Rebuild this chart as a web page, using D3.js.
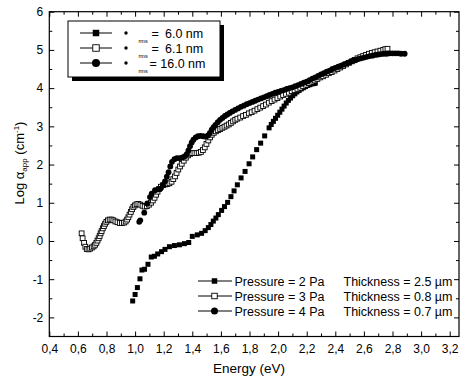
<!DOCTYPE html>
<html><head><meta charset="utf-8">
<script src="https://cdn.jsdelivr.net/npm/d3@7"></script>
<style>
body{margin:0;background:#fff}
svg{display:block}
text{font-family:"Liberation Sans",Arial,Helvetica,sans-serif;fill:#000}
</style>
</head><body>
<svg id="chart" width="460" height="379"></svg>
<script>
// ---- data ----
const xTickValues=[0.4,0.6,0.8,1.0,1.2,1.4,1.6,1.8,2.0,2.2,2.4,2.6,2.8,3.0,3.2];
const xMinorValues=[0.5,0.7,0.9,1.1,1.3,1.5,1.7,1.9,2.1,2.3,2.5,2.7,2.9,3.1];
const yTickValues=[-2,-1,0,1,2,3,4,5,6];
const yMinorValues=[-1.5,-0.5,0.5,1.5,2.5,3.5,4.5,5.5];

// Pressure = 2 Pa (filled squares)
const series2Pa=[[0.983,-1.57],[1.000,-1.40],[1.016,-1.22],[1.034,-0.99],[1.048,-0.76],[1.066,-0.74],[1.090,-0.61],[1.113,-0.42],[1.135,-0.40],[1.158,-0.34],[1.185,-0.28],[1.209,-0.22],[1.240,-0.15],[1.275,-0.12],[1.310,-0.10],[1.345,-0.07],[1.375,-0.04],[1.400,0.12],[1.435,0.16],[1.465,0.20],[1.490,0.27],[1.512,0.35],[1.530,0.43],[1.547,0.52],[1.565,0.60],[1.582,0.69],[1.605,0.80],[1.625,0.90],[1.647,1.01],[1.670,1.16],[1.692,1.31],[1.715,1.47],[1.741,1.65],[1.769,1.82],[1.797,2.02],[1.822,2.20],[1.850,2.39],[1.878,2.56],[1.906,2.75],[1.937,2.96],[1.952,3.05],[1.967,3.13],[1.982,3.21],[1.997,3.29],[2.012,3.37],[2.027,3.45],[2.042,3.53],[2.057,3.61],[2.072,3.68],[2.087,3.74],[2.102,3.80],[2.117,3.85],[2.132,3.90],[2.147,3.94],[2.162,3.98],[2.177,4.01],[2.192,4.04],[2.207,4.07],[2.222,4.09],[2.237,4.11],[2.252,4.12],[2.260,4.13]];

// Pressure = 3 Pa (open squares)
const series3Pa=[[0.626,0.20],[0.633,0.07],[0.643,-0.05],[0.652,-0.15],[0.662,-0.21],[0.674,-0.22],[0.686,-0.20],[0.698,-0.17],[0.710,-0.14],[0.720,-0.10],[0.729,-0.05],[0.737,0.01],[0.745,0.07],[0.752,0.13],[0.759,0.20],[0.766,0.26],[0.774,0.33],[0.782,0.39],[0.790,0.45],[0.799,0.50],[0.810,0.54],[0.822,0.56],[0.835,0.56],[0.848,0.54],[0.862,0.51],[0.877,0.49],[0.893,0.47],[0.908,0.47],[0.922,0.48],[0.934,0.51],[0.944,0.56],[0.953,0.62],[0.961,0.69],[0.970,0.76],[0.979,0.83],[0.988,0.89],[0.998,0.93],[1.010,0.96],[1.023,0.97],[1.037,0.95],[1.052,0.92],[1.067,0.90],[1.082,0.91],[1.097,0.95],[1.111,1.00],[1.124,1.06],[1.136,1.13],[1.147,1.21],[1.157,1.29],[1.168,1.36],[1.180,1.42],[1.195,1.46],[1.210,1.48],[1.225,1.49],[1.240,1.51],[1.255,1.55],[1.267,1.62],[1.279,1.69],[1.290,1.78],[1.302,1.87],[1.314,1.95],[1.326,2.02],[1.340,2.10],[1.355,2.18],[1.370,2.24],[1.385,2.28],[1.400,2.30],[1.415,2.30],[1.430,2.30],[1.445,2.31],[1.460,2.33],[1.474,2.38],[1.487,2.45],[1.499,2.54],[1.512,2.63],[1.524,2.71],[1.536,2.78],[1.550,2.83],[1.565,2.87],[1.580,2.90],[1.595,2.93],[1.610,2.96],[1.625,2.99],[1.640,3.02],[1.655,3.05],[1.670,3.09],[1.685,3.13],[1.700,3.17],[1.715,3.20],[1.735,3.23],[1.755,3.27],[1.775,3.30],[1.795,3.34],[1.815,3.37],[1.835,3.41],[1.855,3.45],[1.875,3.49],[1.895,3.53],[1.915,3.57],[1.935,3.62],[1.955,3.66],[1.975,3.70],[1.995,3.74],[2.015,3.78],[2.035,3.82],[2.055,3.85],[2.075,3.88],[2.095,3.92],[2.115,3.95],[2.135,3.98],[2.155,4.01],[2.175,4.05],[2.195,4.09],[2.215,4.13],[2.235,4.17],[2.255,4.20],[2.275,4.24],[2.295,4.28],[2.315,4.31],[2.335,4.35],[2.355,4.39],[2.375,4.42],[2.395,4.46],[2.415,4.50],[2.435,4.54],[2.455,4.58],[2.475,4.62],[2.495,4.66],[2.515,4.70],[2.535,4.74],[2.555,4.78],[2.575,4.81],[2.595,4.84],[2.615,4.87],[2.635,4.90],[2.655,4.92],[2.675,4.94],[2.695,4.96],[2.715,4.98],[2.735,5.00],[2.750,5.02],[2.765,5.03]];

// Pressure = 4 Pa (filled circles)
const series4Pa=[[1.029,0.50],[1.036,0.54],[1.064,0.74],[1.085,0.98],[1.104,1.15],[1.116,1.24],[1.139,1.33],[1.160,1.35],[1.178,1.37],[1.195,1.46],[1.209,1.56],[1.222,1.68],[1.234,1.80],[1.246,1.95],[1.258,2.07],[1.275,2.14],[1.292,2.17],[1.310,2.17],[1.328,2.18],[1.345,2.21],[1.361,2.27],[1.373,2.37],[1.384,2.48],[1.396,2.58],[1.408,2.65],[1.424,2.71],[1.440,2.74],[1.458,2.75],[1.476,2.74],[1.494,2.73],[1.510,2.76],[1.523,2.83],[1.536,2.91],[1.549,2.98],[1.562,3.04],[1.578,3.11],[1.594,3.17],[1.611,3.22],[1.628,3.27],[1.645,3.31],[1.662,3.35],[1.680,3.39],[1.700,3.43],[1.720,3.47],[1.740,3.51],[1.760,3.54],[1.780,3.58],[1.800,3.61],[1.820,3.64],[1.840,3.67],[1.860,3.70],[1.880,3.73],[1.900,3.76],[1.920,3.79],[1.940,3.82],[1.960,3.85],[1.980,3.88],[2.000,3.90],[2.020,3.93],[2.040,3.95],[2.060,3.98],[2.080,4.00],[2.100,4.02],[2.120,4.05],[2.140,4.08],[2.160,4.11],[2.180,4.14],[2.200,4.17],[2.220,4.21],[2.240,4.25],[2.260,4.28],[2.280,4.32],[2.300,4.36],[2.320,4.39],[2.340,4.43],[2.360,4.46],[2.380,4.50],[2.400,4.53],[2.420,4.56],[2.440,4.59],[2.460,4.62],[2.480,4.65],[2.500,4.68],[2.520,4.71],[2.540,4.73],[2.560,4.76],[2.580,4.78],[2.600,4.80],[2.620,4.82],[2.640,4.84],[2.660,4.85],[2.680,4.87],[2.700,4.88],[2.720,4.89],[2.740,4.90],[2.760,4.90],[2.780,4.91],[2.800,4.91],[2.820,4.91],[2.840,4.91],[2.860,4.90],[2.885,4.90]];

const roughnessLabels=["6.0 nm","6.1 nm","16.0 nm"];
const pressureLabels=["Pressure = 2 Pa","Pressure = 3 Pa","Pressure = 4 Pa"];
const thicknessLabels=["Thickness = 2.5 \u00b5m","Thickness = 0.8 \u00b5m","Thickness = 0.7 \u00b5m"];
const markerKinds=["square","open","circle"];

// ---- layout ----
const svg=d3.select("#chart");
const L=49.3,R=459,T=11.7,B=336.5;
const x=d3.scaleLinear().domain([0.4,3.265]).range([L,R]);
const y=d3.scaleLinear().domain([-2.5,6]).range([B,T]);
const fmt=d=>d3.format(".1f")(d).replace(".",",");

function drawMarker(g,kind,cx,cy,s){
  if(kind==="circle"){
    g.append("circle").attr("cx",cx).attr("cy",cy).attr("r",s/2).attr("fill","#000");
  }else{
    g.append("rect").attr("x",cx-s/2).attr("y",cy-s/2).attr("width",s).attr("height",s)
     .attr("fill",kind==="open"?"#fff":"#000").attr("stroke","#000").attr("stroke-width",kind==="open"?0.9:0);
  }
}

// axes
const axisStyle=g=>{g.select(".domain").remove();g.selectAll("line").attr("stroke","#000").attr("stroke-width",1);g.selectAll("text").attr("font-size",12).attr("font-family","Liberation Sans, Arial, sans-serif");};
svg.append("g").attr("transform",`translate(0,${B})`)
  .call(d3.axisBottom(x).tickValues(xTickValues).tickFormat(fmt).tickSize(-5).tickPadding(8)).call(axisStyle);
svg.append("g").attr("transform",`translate(0,${B})`)
  .call(d3.axisBottom(x).tickValues(xMinorValues).tickFormat("").tickSize(-3)).call(axisStyle);
svg.append("g").attr("transform",`translate(0,${T})`)
  .call(d3.axisTop(x).tickValues(xTickValues).tickFormat("").tickSize(-5)).call(axisStyle);
svg.append("g").attr("transform",`translate(0,${T})`)
  .call(d3.axisTop(x).tickValues(xMinorValues).tickFormat("").tickSize(-3)).call(axisStyle);
svg.append("g").attr("transform",`translate(${L},0)`)
  .call(d3.axisLeft(y).tickValues(yTickValues).tickFormat(d=>d<0?"-"+Math.abs(d):d).tickSize(-5).tickPadding(6)).call(axisStyle);
svg.append("g").attr("transform",`translate(${L},0)`)
  .call(d3.axisLeft(y).tickValues(yMinorValues).tickFormat("").tickSize(-3)).call(axisStyle);
svg.append("g").attr("transform",`translate(${R},0)`)
  .call(d3.axisRight(y).tickValues(yTickValues).tickFormat("").tickSize(-5)).call(axisStyle);
svg.append("g").attr("transform",`translate(${R},0)`)
  .call(d3.axisRight(y).tickValues(yMinorValues).tickFormat("").tickSize(-3)).call(axisStyle);

svg.append("rect").attr("x",L).attr("y",T).attr("width",R-L).attr("height",B-T)
  .attr("fill","none").attr("stroke","#000").attr("stroke-width",1.2);

// data
const plot=svg.append("g");
const sq=plot.append("g");
sq.selectAll("rect").data(series2Pa).join("rect")
  .attr("x",d=>x(d[0])-2.5).attr("y",d=>y(d[1])-2.5).attr("width",5).attr("height",5).attr("fill","#000");
const op=plot.append("g");
op.selectAll("rect").data(series3Pa).join("rect")
  .attr("x",d=>x(d[0])-2.4).attr("y",d=>y(d[1])-2.4).attr("width",4.8).attr("height",4.8)
  .attr("fill","#fff").attr("stroke","#000").attr("stroke-width",0.9);
const ci=plot.append("g");
ci.selectAll("circle").data(series4Pa).join("circle")
  .attr("cx",d=>x(d[0])).attr("cy",d=>y(d[1])).attr("r",2.9).attr("fill","#000");

// axis titles
svg.append("text").attr("x",249).attr("y",373).attr("text-anchor","middle").attr("font-size",13.5).text("Energy (eV)");
const yt=svg.append("text").attr("transform","translate(24,163) rotate(-90)").attr("text-anchor","middle").attr("font-size",13);
yt.append("tspan").text("Log  \u03b1");
yt.append("tspan").attr("font-size",8).attr("dy",3).text("app");
yt.append("tspan").attr("dy",-3).text("  (cm");
yt.append("tspan").attr("font-size",8).attr("dy",-5).text("-1");
yt.append("tspan").attr("dy",5).text(")");

// legend 1 (roughness)
const lg=svg.append("g");
lg.append("rect").attr("x",72).attr("y",25).attr("width",152).attr("height",56).attr("fill","#000");
lg.append("rect").attr("x",68).attr("y",21).attr("width",152).attr("height",56).attr("fill","#fff").attr("stroke","#000").attr("stroke-width",1);
const rowsTop=[33,48,63];
roughnessLabels.forEach((lab,i)=>{
  const yy=rowsTop[i];
  lg.append("line").attr("x1",80).attr("x2",112).attr("y1",yy).attr("y2",yy).attr("stroke","#000").attr("stroke-width",1);
  drawMarker(lg,markerKinds[i],96,yy,i===2?8:6.5);
  lg.append("circle").attr("cx",126).attr("cy",yy).attr("r",1.7).attr("fill","#000");
  lg.append("text").attr("x",138.5).attr("y",yy+9.5).attr("font-size",5.5).text("rms");
  if(i<2){
    lg.append("text").attr("x",151.5).attr("y",yy+4.5).attr("font-size",12.5).text("=");
    lg.append("text").attr("x",165).attr("y",yy+4.5).attr("font-size",12.5).text(lab);
  }else{
    lg.append("text").attr("x",149.5).attr("y",yy+4.5).attr("font-size",12.5).text("= "+lab);
  }
});

// legend 2 (pressure / thickness)
const rowsBot=[281,296,311];
pressureLabels.forEach((lab,i)=>{
  const yy=rowsBot[i];
  lg.append("line").attr("x1",198).attr("x2",232).attr("y1",yy).attr("y2",yy).attr("stroke","#000").attr("stroke-width",1);
  drawMarker(lg,markerKinds[i],214.5,yy,i===2?7:5.5);
  lg.append("text").attr("x",234.5).attr("y",yy+4.5).attr("font-size",12.5).text(lab);
  lg.append("text").attr("x",343.5).attr("y",yy+4.5).attr("font-size",12.5).text(thicknessLabels[i]);
});
</script>
</body></html>
